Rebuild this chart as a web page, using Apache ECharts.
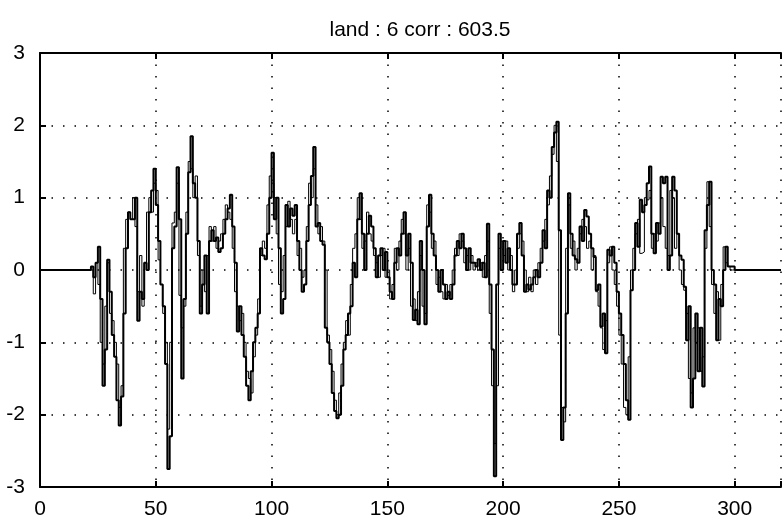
<!DOCTYPE html>
<html>
<head>
<meta charset="utf-8">
<script src="https://cdn.jsdelivr.net/npm/echarts@6/dist/echarts.min.js"></script>
<style>
html,body{margin:0;padding:0;background:#fff;}
#chart{width:784px;height:528px;}
</style>
</head>
<body>
<div id="chart"></div>
<script>
var titleText = 'land : 6 corr : 603.5';
var xTicks = [0, 50, 100, 150, 200, 250, 300];
var yTicks = [-3, -2, -1, 0, 1, 2, 3];

// Thick trace, one value per sample index 0..320
var seriesThick = [
0,0,0,0,0,0,0,0,0,0,
0,0,0,0,0,0,0,0,0,0,
0,0,0.05,-0.1,0.1,0.32,-0.4,-1.6,-1.1,0.14,
-0.3,-0.9,-1.2,-1.8,-2.15,-1.75,-0.6,0.3,0.8,0.7,
0.7,1.0,-0.7,-0.3,-0.4,0.1,0.0,0.8,1.1,1.4,
0.9,0.4,-0.2,-0.5,-1.3,-2.75,-2.3,0.3,0.6,1.42,
0.7,-1.5,-0.4,0.5,1.35,1.85,1.2,1.0,0.4,-0.6,
-0.2,0.2,-0.6,0.4,0.55,0.4,0.45,0.25,0.3,0.5,
0.7,0.85,1.04,0.6,0.1,-0.85,-0.5,-0.9,-1.2,-1.6,
-1.8,-1.4,-1.0,-0.8,-0.6,0.3,0.2,0.15,0.5,1.0,
1.62,0.7,1.0,0.3,-0.6,-0.4,0.9,0.6,0.85,0.75,
0.9,0.4,0,-0.3,-0.2,0.4,0.9,1.3,1.7,0.6,
0.65,0.4,0.35,-0.8,-1.0,-1.3,-1.7,-1.95,-2.05,-2.0,
-1.6,-1.1,-0.9,-0.6,-0.5,0.1,-0.1,0.7,1.06,0.5,
0,0.5,0.75,0.6,0.3,-0.1,0.2,0.3,0,0.25,
-0.1,-0.3,-0.4,0.1,0.3,0.2,0.5,0.8,0.2,0.5,
0.1,-0.69,-0.55,-0.75,0.4,0,-0.75,0.6,1.04,0.5,
0.2,0,-0.3,0,-0.2,-0.4,-0.3,-0.4,-0.2,0.2,
0.4,0.3,0.5,0.3,0,0.3,0.1,0.1,0.05,0.15,
0,0.1,-0.1,0.64,-0.2,-1.1,-2.85,-0.2,0.5,0,
0.4,0.1,0.3,0,-0.2,-0.2,0.5,0.65,0.2,-0.3,
-0.2,-0.27,-0.2,-0.1,0,-0.1,0.1,0.55,0.3,1.1,
1.0,1.7,1.9,2.05,0.55,-2.35,-1.9,-0.6,1.06,0.5,
0.2,0.15,0.1,0.6,0.4,0.83,0.74,0.5,0.3,0.18,
-0.28,-0.2,-0.78,-0.6,-1.15,0.28,0.2,0.32,0.1,-0.3,
-0.6,-0.9,-1.3,-1.8,-2.07,-0.28,0,0.65,0.32,0.97,
0.8,0.9,1.2,1.43,0.5,0.23,0.65,0.5,1.29,1.2,
1.29,0,0.2,1.29,1.1,0.5,0.2,0.14,-0.23,-0.97,
-0.5,-1.9,-1.5,-0.6,-1.4,-0.8,-1.61,0.55,0.9,1.22,
0,-0.2,-0.97,-0.4,-0.5,0,0.32,0.05,0.05,0.05,
0,0,0,0,0,0,0,0,0,0,
0,0,0,0,0,0,0,0,0,0,
0
];

// Thin trace, one value per sample index 0..320
var seriesThin = [
0,0,0,0,0,0,0,0,0,0,
0,0,0,0,0,0,0,0,0,0,
0,0,0,-0.33,0.1,-0.2,-1.0,-1.3,-0.5,0.1,
-0.6,-0.7,-1.0,-1.3,-1.9,-1.6,0.3,0.7,0.8,0.7,
1.0,0.6,-0.3,0.2,-0.5,0.1,0.8,1.0,0.8,1.2,
1.1,0.14,-0.2,-0.6,-1.0,-2.2,-1.0,0.65,0.8,1.2,
-0.35,-0.8,-0.5,0.8,1.5,1.4,1.0,1.3,0.2,-0.5,
0,-0.3,0.2,0.6,0.4,0.6,0.3,0.4,0.5,0.7,
0.9,0.8,0.7,0.3,-0.3,-0.5,-0.7,-0.6,-1.0,-1.4,
-1.5,-1.7,-1.2,-0.9,-0.4,0.2,0.4,0.3,0.9,1.3,
1.2,1.0,0.5,-0.2,-0.3,0.2,0.6,0.95,0.7,0.5,
0.7,0.2,0.3,-0.1,0,0.6,1.2,1.0,1.4,0.9,
0.5,0.6,0.4,0,-0.9,-1.1,-1.4,-1.8,-2.0,-1.7,
-1.3,-1.0,-0.7,-0.9,-0.2,0.3,0.5,1.0,0.7,0.3,
0.4,0.8,0.5,0.4,0.2,0.1,-0.1,0.2,0.3,-0.1,
0,-0.4,-0.2,0.3,0,0.4,0.7,0.5,0,0.3,
-0.5,-0.4,-0.7,-0.3,0.2,-0.5,-0.6,0.9,0.8,0.3,
0.4,-0.2,-0.1,-0.3,-0.4,-0.2,-0.35,-0.2,0,0.3,
0.2,0.5,0.4,0.1,0.2,0,0.2,0,0.1,0,
0.1,-0.1,0.2,0.4,-0.6,-1.6,-2.4,-1.6,0.3,0.4,
0.2,0.4,0,0.2,-0.3,0,0.3,0.5,0.4,0,
-0.3,-0.1,-0.3,0,-0.2,0.1,0.3,0.4,0.7,0.9,
1.3,1.6,2.0,1.5,-0.9,-1.9,-2.1,0.3,0.9,0.3,
0.4,0,0.3,0.5,0.7,0.6,0.3,0.4,0,0.2,
-0.3,-0.5,-0.8,-1.1,-0.7,0.1,0.32,0,-0.2,-0.5,
-0.9,-1.3,-1.9,-2.0,-1.2,0,0.3,0.5,0.7,0.23,
0.25,1.0,0.97,1.1,0.3,0.5,0.4,0.65,1.0,0.6,
0.3,0.2,1.1,1.0,0.3,0.5,0,-0.2,-0.28,-0.6,
-1.5,-1.7,-0.8,-1.0,-0.8,-1.4,-1.2,0.3,1.22,0.6,
-0.2,-0.6,-0.3,-0.97,-0.2,0.32,0.1,0.05,0,0,
0,0,0,0,0,0,0,0,0,0,
0,0,0,0,0,0,0,0,0,0,
0
];

var FONT = '"Liberation Sans Narrow","Liberation Sans",Arial,sans-serif';

function pairs(arr){ return arr.map(function(v,i){ return [i, v]; }); }

var chart = echarts.init(document.getElementById('chart'), null, {renderer:'canvas'});
var axisLineStyle = {color:'#000', width:2};
var gridDots = {show:true, lineStyle:{color:'#000', width:1.5, type:[1.5,10]}};

chart.setOption({
  animation:false,
  backgroundColor:'#fff',
  title:{
    text:titleText, left:415, top:15, textAlign:'center',
    textStyle:{fontFamily:FONT, fontSize:21, fontWeight:'normal', color:'#000'}
  },
  grid:{left:40, right:-13, top:53, bottom:41, containLabel:false},
  xAxis:[{
    type:'value', min:0, max:320, interval:50, position:'bottom',
    axisLine:{show:true, onZero:false, lineStyle:axisLineStyle},
    axisTick:{show:true, inside:true, length:6, lineStyle:{color:'#000', width:2}},
    axisLabel:{show:true, margin:12, fontFamily:FONT, fontSize:21, color:'#000',
      formatter:function(v){ return xTicks.indexOf(v) >= 0 ? String(v) : ''; }},
    splitLine:gridDots
  },{
    type:'value', min:0, max:320, interval:50, position:'top',
    axisLine:{show:true, onZero:false, lineStyle:axisLineStyle},
    axisTick:{show:true, inside:true, length:6, lineStyle:{color:'#000', width:2}},
    axisLabel:{show:false}, splitLine:{show:false}
  }],
  yAxis:[{
    type:'value', min:-3, max:3, interval:1, position:'left',
    axisLine:{show:true, onZero:false, lineStyle:axisLineStyle},
    axisTick:{show:true, inside:true, length:6, lineStyle:{color:'#000', width:2}},
    axisLabel:{show:true, margin:15, fontFamily:FONT, fontSize:21, color:'#000',
      formatter:function(v){ return yTicks.indexOf(v) >= 0 ? String(v) : ''; }},
    splitLine:gridDots
  }],
  series:[{
    type:'line', name:'thin', xAxisIndex:0, yAxisIndex:0, step:'end',
    data:pairs(seriesThin), showSymbol:false, symbol:'none',
    lineStyle:{color:'#000', width:1}, z:2
  },{
    type:'line', name:'thick', xAxisIndex:0, yAxisIndex:0, step:'end',
    data:pairs(seriesThick), showSymbol:false, symbol:'none',
    lineStyle:{color:'#000', width:2}, z:3
  }]
});
</script>
</body>
</html>
